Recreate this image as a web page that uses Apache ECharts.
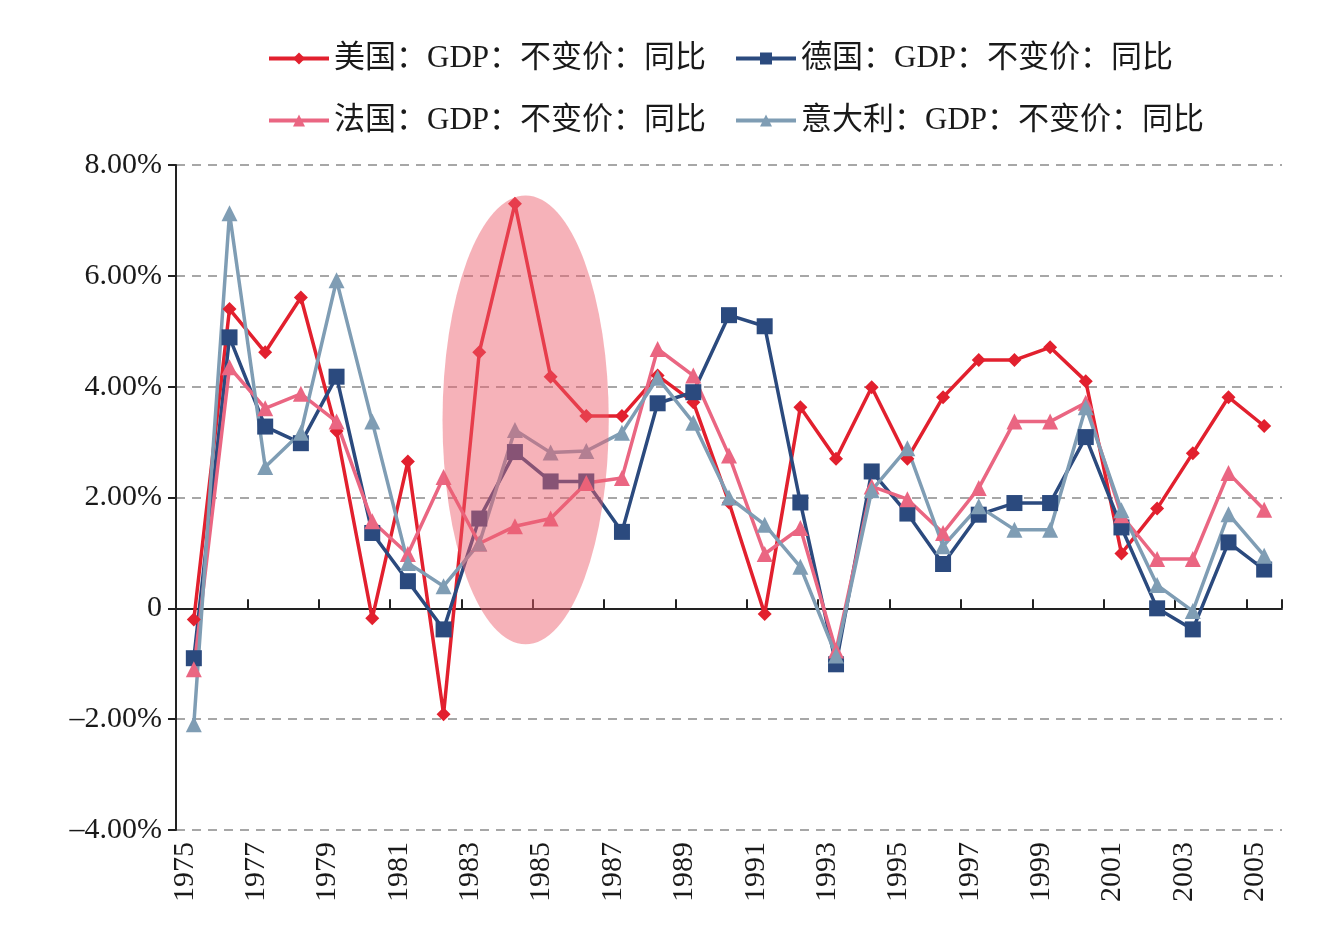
<!DOCTYPE html>
<html>
<head>
<meta charset="utf-8">
<script src="https://cdn.jsdelivr.net/npm/echarts@6/dist/echarts.min.js"></script>
<style>
  html, body { margin: 0; padding: 0; background: #fff; }
  #main { width: 1322px; height: 940px; }
</style>
</head>
<body>
<div id="main"></div>
<script>
// 年份
const years = ['1975', '1976', '1977', '1978', '1979', '1980', '1981', '1982', '1983', '1984',
  '1985', '1986', '1987', '1988', '1989', '1990', '1991', '1992', '1993', '1994',
  '1995', '1996', '1997', '1998', '1999', '2000', '2001', '2002', '2003', '2004', '2005']

// GDP 不变价 同比 (%)
const usGdp = [-0.2, 5.4, 4.62, 5.61, 3.2, -0.18, 2.65, -1.91, 4.62, 7.3,
  4.18, 3.47, 3.47, 4.2, 3.72, 1.91, -0.1, 3.63, 2.7, 3.99,
  2.7, 3.81, 4.48, 4.48, 4.71, 4.1, 0.99, 1.8, 2.8, 3.81, 3.29]
const deGdp = [-0.9, 4.89, 3.28, 2.98, 4.18, 1.36, 0.49, -0.38, 1.62, 2.82,
  2.29, 2.29, 1.38, 3.7, 3.9, 5.29, 5.09, 1.91, -1.01, 2.47,
  1.71, 0.8, 1.69, 1.9, 1.9, 3.09, 1.46, 0.0, -0.38, 1.19, 0.7]
const frGdp = [-1.1, 4.35, 3.61, 3.87, 3.37, 1.57, 0.98, 2.37, 1.17, 1.48,
  1.62, 2.26, 2.35, 4.68, 4.2, 2.76, 0.98, 1.45, -0.76, 2.2,
  1.97, 1.36, 2.17, 3.37, 3.37, 3.71, 1.68, 0.89, 0.89, 2.44, 1.78]
const itGdp = [-2.09, 7.13, 2.55, 3.17, 5.92, 3.37, 0.82, 0.4, 1.17, 3.22,
  2.81, 2.84, 3.17, 4.16, 3.35, 2.0, 1.51, 0.75, -0.85, 2.13,
  2.89, 1.12, 1.84, 1.42, 1.42, 3.63, 1.77, 0.42, -0.05, 1.7, 0.95]

// y 轴刻度
const yTicks = [-4, -2, 0, 2, 4, 6, 8]

const serif = "'Liberation Serif', 'Noto Sans CJK SC', serif"
const colors = ['#e2202e', '#2b4a7e', '#ea6682', '#7f9db4']

const chartDom = document.getElementById('main')
const myChart = echarts.init(chartDom)

const legendText = { fontFamily: serif, fontSize: 31, color: '#1a1a1a' }

function makeSeries(name, data, symbol, size, color) {
  return {
    name: name,
    type: 'line',
    data: data,
    symbol: symbol,
    symbolSize: size,
    showSymbol: true,
    lineStyle: { width: 3.5, color: color },
    itemStyle: { color: color },
    emphasis: { disabled: true },
    animation: false
  }
}

const option = {
  backgroundColor: '#fff',
  animation: false,
  legend: [
    {
      left: 262, top: 38, itemWidth: 60, itemHeight: 15, itemGap: 28,
      lineStyle: { width: 4 },
      textStyle: legendText,
      data: ['美国：GDP：不变价：同比', '德国：GDP：不变价：同比']
    },
    {
      left: 262, top: 100, itemWidth: 60, itemHeight: 15, itemGap: 28,
      lineStyle: { width: 4 },
      textStyle: legendText,
      data: ['法国：GDP：不变价：同比', '意大利：GDP：不变价：同比']
    }
  ],
  grid: { left: 176, right: 40, top: 165, bottom: 110 },
  xAxis: [
    {
      type: 'category',
      data: years,
      boundaryGap: true,
      axisLine: { show: false, onZero: false },
      axisTick: { show: false },
      axisLabel: {
        interval: 1, rotate: 90, margin: 12,
        fontFamily: serif, fontSize: 30, color: '#1a1a1a',
        verticalAlign: 'bottom', lineHeight: 18
      }
    },
    {
      type: 'category',
      data: years,
      position: 'bottom',
      boundaryGap: true,
      axisLine: { show: true, onZero: true, lineStyle: { color: '#222', width: 2 } },
      axisTick: { show: true, inside: true, interval: 1, length: 9, lineStyle: { color: '#222', width: 2 } },
      axisLabel: { show: false }
    }
  ],
  yAxis: {
    type: 'value',
    min: yTicks[0],
    max: yTicks[yTicks.length - 1],
    interval: 2,
    axisLine: { show: true, lineStyle: { color: '#222', width: 2 } },
    axisTick: { show: true, length: 8, lineStyle: { color: '#222', width: 2 } },
    axisLabel: {
      margin: 14,
      fontFamily: serif, fontSize: 30, color: '#1a1a1a',
      formatter: function (v) {
        if (v === 0) return '0'
        return (v < 0 ? '–' : '') + Math.abs(v).toFixed(2) + '%'
      }
    },
    splitLine: { show: true, lineStyle: { color: '#8a8a8a', width: 1.5, type: [9, 7] } }
  },
  series: [
    makeSeries('美国：GDP：不变价：同比', usGdp, 'diamond', 14, colors[0]),
    makeSeries('德国：GDP：不变价：同比', deGdp, 'rect', 16, colors[1]),
    makeSeries('法国：GDP：不变价：同比', frGdp, 'triangle', 16, colors[2]),
    makeSeries('意大利：GDP：不变价：同比', itGdp, 'triangle', 16, colors[3])
  ]
}

option && myChart.setOption(option)

// 1984-1986 高亮椭圆
const p0 = myChart.convertToPixel({ xAxisIndex: 0, yAxisIndex: 0 }, [9, 3.4])
const p1 = myChart.convertToPixel({ xAxisIndex: 0, yAxisIndex: 0 }, [10, 3.4])
const pTop = myChart.convertToPixel({ xAxisIndex: 0, yAxisIndex: 0 }, [9, 7.45])
const step = p1[0] - p0[0]
const cx = p0[0] + step * 0.3
const ry = p0[1] - pTop[1]
const rx = step * 2.33
myChart.setOption({
  graphic: [{
    type: 'circle',
    x: cx, y: p0[1],
    scaleX: rx / 100, scaleY: ry / 100,
    shape: { cx: 0, cy: 0, r: 100 },
    style: { fill: 'rgba(236, 95, 108, 0.48)' },
    z: 100, silent: true
  }]
})
</script>
</body>
</html>
